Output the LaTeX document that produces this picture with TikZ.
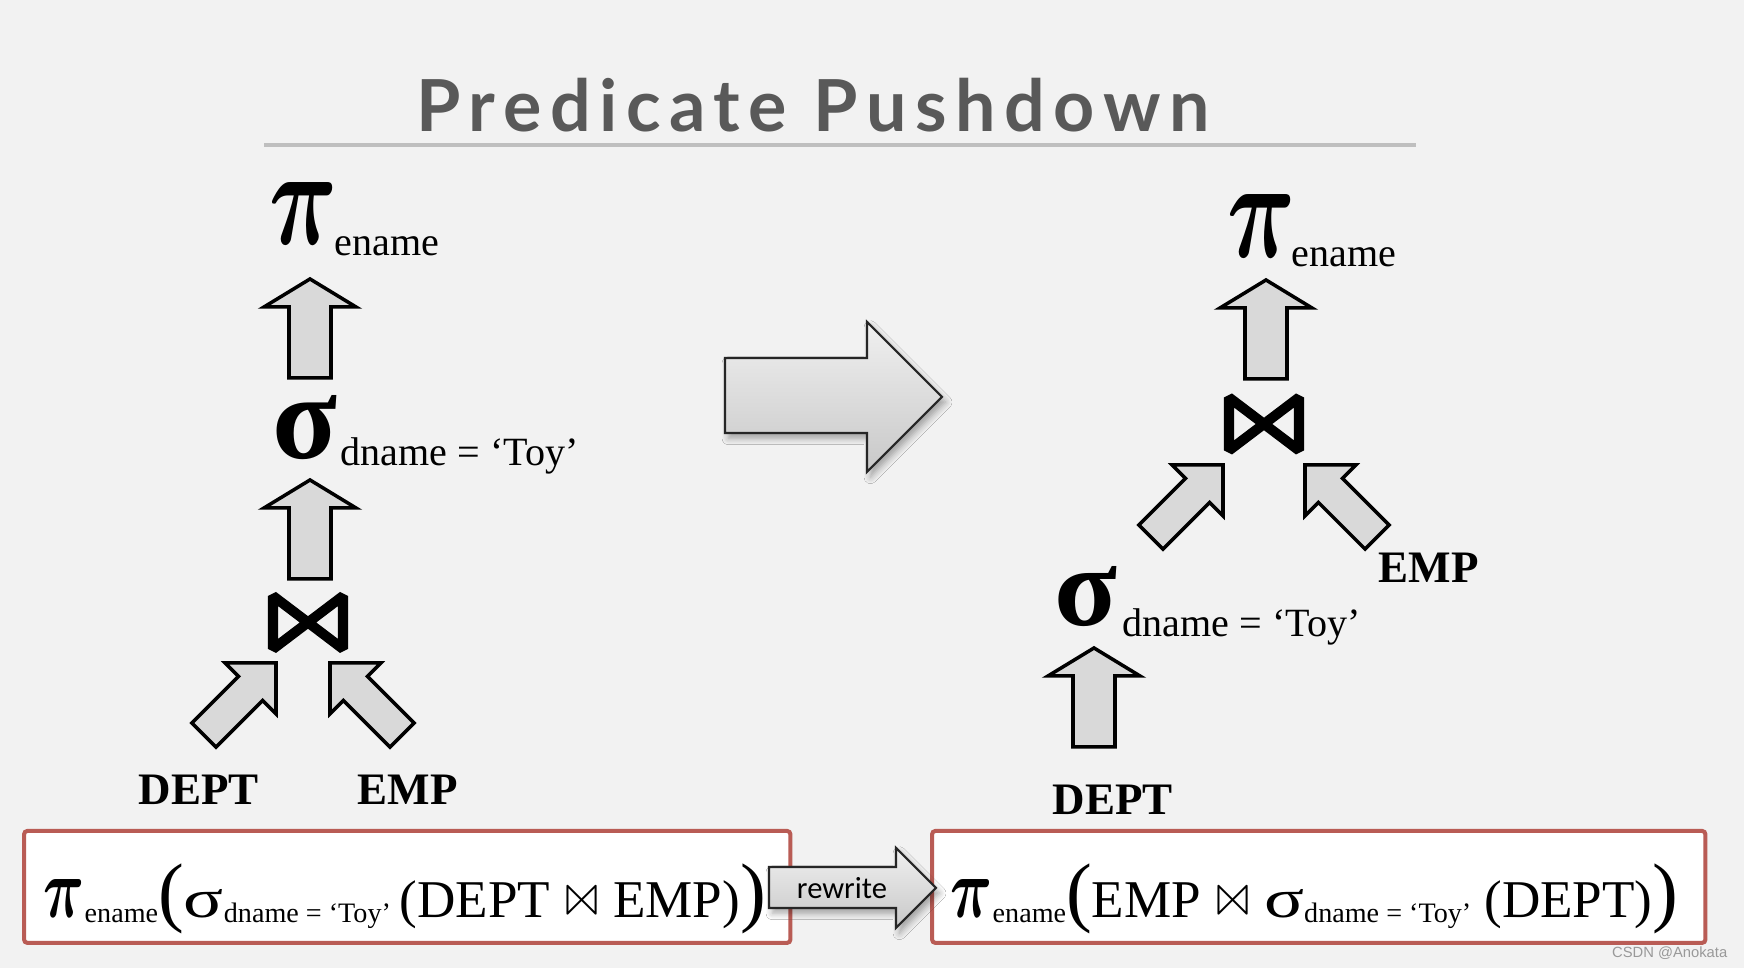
\documentclass[tikz,border=0pt]{standalone}
\usepackage{graphicx}
\usepackage{fontspec}
\setmainfont{Liberation Serif}
\newfontfamily\titlefont[LetterSpace=12]{Lato}
\newfontfamily\calfont{Carlito}
\newfontfamily\markfont{Liberation Sans}
\usepackage{amsmath}
\usepackage{latexsym}
\usetikzlibrary{positioning,shadows.blur}
\definecolor{pagebg}{HTML}{F2F2F2}
\definecolor{titlegray}{HTML}{595959}
\definecolor{rulegray}{HTML}{BFBFBF}
\definecolor{boxred}{HTML}{B95C55}
\definecolor{arrfill}{HTML}{D9D9D9}
\definecolor{arrtop}{HTML}{F0F0F0}
\definecolor{arrbot}{HTML}{C8C8C8}

% glyphs stretched to the size of the slide symbols
\newcommand{\projglyph}[2]{\resizebox{#1}{#2}{$\boldsymbol{\pi}$}}
\newcommand{\selglyph}[2]{\resizebox{#1}{#2}{\bfseries σ}}
\newcommand{\selthin}[2]{\resizebox{#1}{#2}{σ}}
\newcommand{\lowsub}[1]{\raisebox{-0.045cm}{\fontsize{8}{9}\selectfont #1}}
\newcommand{\tallparen}[1]{{\fontsize{22}{22}\selectfont #1}}

\begin{document}
\begin{tikzpicture}[x=0.01cm, y=0.01cm,
  blockarr/.style={draw=black, line width=1pt, fill=arrfill, line join=miter},
  shadearr/.style={draw=black!85, line width=0.6pt, top color=arrtop, bottom color=arrbot,
    blur shadow={shadow xshift=1pt, shadow yshift=-1.5pt, shadow blur steps=6, shadow opacity=35}},
  exprbox/.style={draw=boxred, line width=1.15pt, fill=white, rounded corners=1pt, inner sep=0pt, minimum height=1.12cm, anchor=south west},
  glyph/.style={inner sep=0pt},
  subtxt/.style={inner sep=0pt, anchor=base west, font=\fontsize{11.4}{13}\selectfont},
  relname/.style={inner sep=0pt, anchor=base west, font=\fontsize{12.8}{15}\selectfont\bfseries},
  formula/.style={inner sep=0pt, anchor=base west, font=\fontsize{15.1}{18}\selectfont},
  uparr/.pic={\draw[blockarr] (0,0) -- (-46,-28) -- (-21,-28) -- (-21,-99) -- (21,-99) -- (21,-28) -- (46,-28) -- cycle;},
  slantarr/.pic={\draw[blockarr] (0,0) -- (-36,-36) -- (-17,-36) -- (-17,-102) -- (17,-102) -- (17,-36) -- (36,-36) -- cycle;},
  joinop/.pic={\draw[line width=2.85pt, line join=bevel] (-35,26.5) -- (35,-26.5) -- (35,26.5) -- (-35,-26.5) -- cycle;}
]
  \useasboundingbox (0,0) rectangle (1744,968);
  \fill[pagebg] (0,0) rectangle (1744,968);

  % title
  \node[anchor=base, inner sep=0pt, text=titlegray, font=\titlefont\bfseries\fontsize{20.4}{24}\selectfont] (title) at (813,836) {Predicate Pushdown};
  \draw[rulegray, line width=1.15pt] (264,823) -- (1416,823);

  % left plan
  \node[glyph] (lproj) at (304,754) {\projglyph{0.68cm}{0.62cm}};
  \node[subtxt] (lprojsub) at (334,712) {ename};
  \pic at (310,689) {uparr};
  \node[glyph] (lsel) at (305,540) {\selglyph{0.65cm}{0.63cm}};
  \node[subtxt] (lselsub) at (340,502) {dname = ‘Toy’};
  \pic at (310,488) {uparr};
  \pic at (308,345.5) {joinop};
  \pic[rotate=-45] at (276,305) {slantarr};
  \pic[rotate=45] at (330,305) {slantarr};
  \node[relname] (ldept) at (138,163) {DEPT};
  \node[relname] (lemp) at (357,163) {EMP};

  % rewrite arrow in the middle
  \draw[shadearr] (725,610) -- (867,610) -- (867,646) -- (942,571) -- (867,496) -- (867,535) -- (725,535) -- cycle;

  % right plan
  \node[glyph] (rproj) at (1262,742) {\projglyph{0.68cm}{0.63cm}};
  \node[subtxt] (rprojsub) at (1291,701) {ename};
  \pic at (1266,688) {uparr};
  \pic at (1264,544) {joinop};
  \pic[rotate=-45] at (1223,503) {slantarr};
  \pic[rotate=45] at (1305,503) {slantarr};
  \node[relname] (remp) at (1378,385) {EMP};
  \node[glyph] (rsel) at (1086,371) {\selglyph{0.63cm}{0.59cm}};
  \node[subtxt] (rselsub) at (1122,331) {dname = ‘Toy’};
  \pic at (1094,320) {uparr};
  \node[relname] (rdept) at (1052,153) {DEPT};

  % algebra expressions
  \node[exprbox, minimum width=7.66cm] (lbox) at (22,23) {};
  \node[exprbox, minimum width=7.73cm] (rbox) at (930,23) {};
  \node[formula] (lexpr) at (43,50) {\projglyph{0.41cm}{0.38cm}\lowsub{ename}\tallparen{(}\selthin{0.40cm}{0.28cm}\lowsub{dname = ‘Toy’}\,(DEPT $\Join$ EMP)\tallparen{)}};
  \node[formula] (rexpr) at (950,50) {\projglyph{0.42cm}{0.38cm}\lowsub{ename}\tallparen{(}EMP\ $\Join$\ \selthin{0.40cm}{0.28cm}\lowsub{dname = ‘Toy’}\ (DEPT)\tallparen{)}};
  \draw[shadearr] (769,101) -- (896,101) -- (896,120) -- (936,80) -- (896,40) -- (896,60) -- (769,60) -- cycle;
  \node[font=\calfont\fontsize{8.7}{10}\selectfont, inner sep=0pt] (rwtext) at (842,80) {rewrite};

  \node[anchor=base east, inner sep=0pt, text=black!40, font=\markfont\fontsize{4.2}{5}\selectfont] (mark) at (1728,10) {CSDN @Anokata};
\end{tikzpicture}
\end{document}
